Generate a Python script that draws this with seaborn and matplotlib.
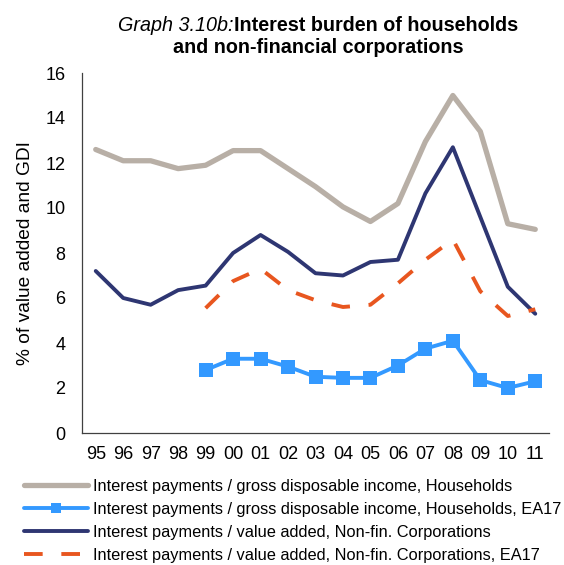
import numpy as np
import pandas as pd
import matplotlib
matplotlib.use("Agg")
import matplotlib.pyplot as plt
import seaborn as sns

# data
years = ["95", "96", "97", "98", "99", "00", "01", "02", "03", "04", "05", "06", "07", "08", "09", "10", "11"]
hh_gdi = [12.6, 12.1, 12.1, 11.75, 11.9, 12.55, 12.55, 11.75, 10.95, 10.05, 9.4, 10.2, 12.95, 15.0, 13.4, 9.3, 9.05]
hh_gdi_ea17 = [np.nan, np.nan, np.nan, np.nan, 2.8, 3.3, 3.3, 2.95, 2.5, 2.45, 2.45, 3.0, 3.75, 4.1, 2.35, 2.0, 2.3]
nfc_va = [7.2, 6.0, 5.7, 6.35, 6.55, 8.0, 8.8, 8.05, 7.1, 7.0, 7.6, 7.7, 10.65, 12.7, 9.6, 6.5, 5.3]
nfc_va_ea17 = [np.nan, np.nan, np.nan, np.nan, 5.55, 6.75, 7.3, 6.35, 5.9, 5.6, 5.7, 6.65, 7.7, 8.6, 6.3, 5.2, 5.5]

labels = ["Interest payments / gross disposable income, Households",
          "Interest payments / gross disposable income, Households, EA17",
          "Interest payments / value added, Non-fin. Corporations",
          "Interest payments / value added, Non-fin. Corporations, EA17"]

col_grey = "#B8AFA6"
col_blue = "#3399FF"
col_navy = "#2E3672"
col_orange = "#E8561F"

df = pd.DataFrame({"pos": np.arange(len(years)), "year": years,
                   "hh": hh_gdi, "hh_ea": hh_gdi_ea17,
                   "nfc": nfc_va, "nfc_ea": nfc_va_ea17})

sns.set_style("white")
plt.rcParams["font.family"] = ["Liberation Sans", "DejaVu Sans"]
plt.rcParams["text.color"] = "black"
plt.rcParams["axes.labelcolor"] = "black"

fig = plt.figure(figsize=(5.64, 5.65), dpi=100)
ax = fig.add_axes([82 / 564, 1 - 433 / 565, (549 - 82) / 564, (433 - 73) / 565])

sns.lineplot(data=df, x="pos", y="hh", ax=ax, color=col_grey, lw=3.8, label=labels[0])
sns.lineplot(data=df, x="pos", y="hh_ea", ax=ax, color=col_blue, lw=2.8, marker="s",
             markersize=9.5, markeredgewidth=0, label=labels[1])
sns.lineplot(data=df, x="pos", y="nfc", ax=ax, color=col_navy, lw=2.8, label=labels[2])
sns.lineplot(data=df, x="pos", y="nfc_ea", ax=ax, color=col_orange, lw=2.8, label=labels[3])
ax.lines[3].set_dashes((4.8, 4.8))

ax.set_xlim(-0.5, len(years) - 0.5)
ax.set_ylim(0, 16)
ax.set_yticks(range(0, 17, 2))
ax.set_xticks(df["pos"])
ax.set_xticklabels(years)
ax.tick_params(length=0, labelsize=13, colors="black")
ax.tick_params(axis="y", pad=12)
ax.tick_params(axis="x", pad=9.5)
ax.set_xlabel("")
ax.set_ylabel("% of value added and GDI", fontsize=13.8, labelpad=8)
for s in ["top", "right"]:
    ax.spines[s].set_visible(False)
for s in ["left", "bottom"]:
    ax.spines[s].set_color("#404040")
    ax.spines[s].set_linewidth(0.9)

ax.get_legend().remove()
handles, labs = ax.get_legend_handles_labels()
leg = fig.legend(handles, labs, loc="upper left", bbox_to_anchor=(24 / 564, 1 - 479 / 565),
                 frameon=False, fontsize=11.8, handlelength=3.9, handletextpad=0.3,
                 labelspacing=0.48, borderpad=0, borderaxespad=0, markerscale=0.75)

# title: italic prefix + bold text on the first line
cx = 318 / 564
fig.canvas.draw()
r = fig.canvas.get_renderer()
t_it = fig.text(0, 1 - 30.7 / 565, "Graph 3.10b:", fontsize=14.2, style="italic", ha="left", va="baseline")
t_bd = fig.text(0, 1 - 30.7 / 565, "Interest burden of households", fontsize=14.2, weight="bold",
                ha="left", va="baseline")
w_it = t_it.get_window_extent(r).width / 564
w_bd = t_bd.get_window_extent(r).width / 564
x0 = cx - (w_it + w_bd) / 2
t_it.set_x(x0)
t_bd.set_x(x0 + w_it)
fig.text(cx, 1 - 53.3 / 565, "and non-financial corporations", fontsize=14.2, weight="bold",
         ha="center", va="baseline")

fig.savefig("out.png", dpi=100)
